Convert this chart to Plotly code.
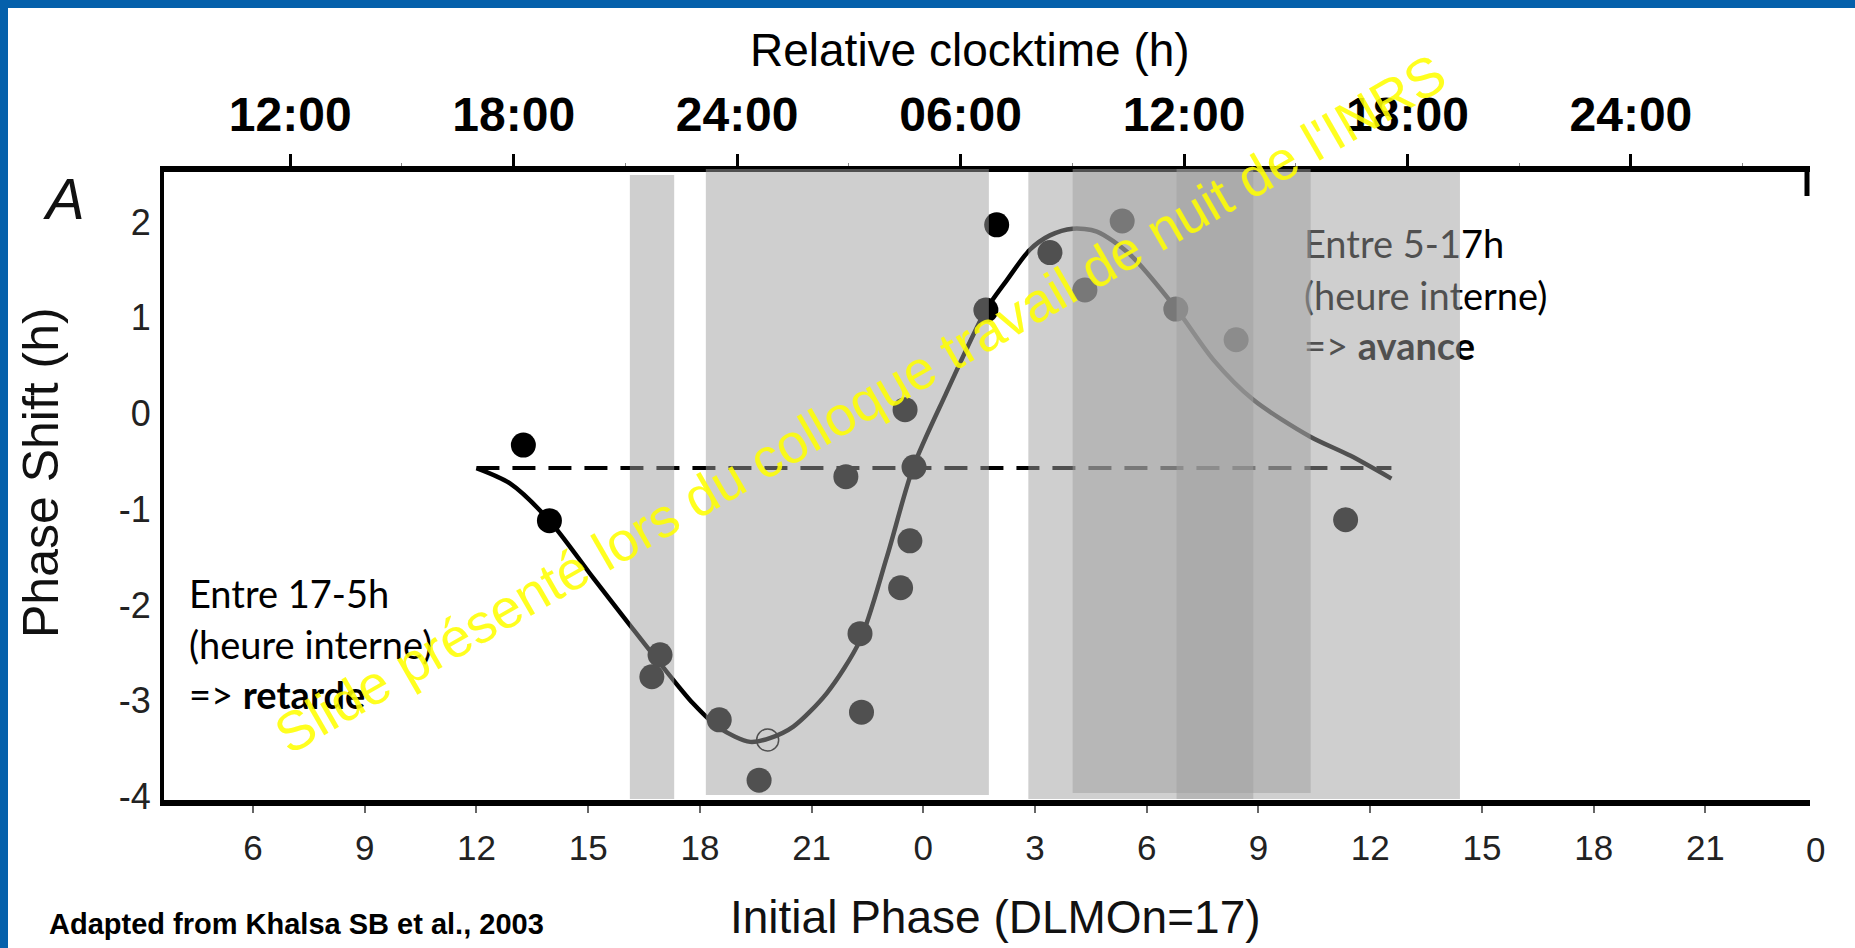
import plotly.graph_objects as go

# ---------------------------------------------------------------------------
# Phase response curve to light (initial phase in h, DLMOn = 17)
# ---------------------------------------------------------------------------
# individual subjects (filled circles)
phase = [13.26, 13.96, 16.93, 16.71, 18.52, 19.59, 21.92, 22.30, 22.34, 23.39,
         23.64, 23.75, 23.51, 25.97, 25.68, 27.40, 28.34, 29.34, 30.78, 32.40,
         35.34]
shift = [-0.33, -1.12, -2.52, -2.75, -3.20, -3.83, -0.66, -2.30, -3.12, -1.82,
         -1.33, -0.56, 0.04, 1.97, 1.08, 1.68, 1.29, 2.01, 1.09, 0.77,
         -1.11]
# subject shown with an open circle
open_phase = [19.82]
open_shift = [-3.41]

# fitted response curve
curve_phase = [12.00, 12.90, 13.96, 15.14, 16.12, 16.93, 17.82, 18.54, 19.35,
               19.88, 20.51, 21.41, 22.30, 23.02, 23.73, 24.60, 25.68, 26.24,
               26.86, 27.40, 28.01, 28.66, 29.55, 30.78, 31.79, 32.87, 34.38,
               35.46, 36.57]
curve_shift = [-0.57, -0.73, -1.12, -1.72, -2.21, -2.61, -3.03, -3.29, -3.43,
               -3.39, -3.27, -2.92, -2.37, -1.50, -0.56, 0.20, 1.08, 1.39,
               1.71, 1.86, 1.93, 1.90, 1.66, 1.10, 0.56, 0.14, -0.24,
               -0.44, -0.68]

# baseline (mean shift of the control condition)
baseline_phase = [12.00, 36.57]
baseline_shift = [-0.57, -0.57]

# shaded sleep / light episodes (phase, h)
band_start = [16.12, 18.16, 26.82, 28.01, 30.80]
band_end = [17.31, 25.76, 38.41, 34.40, 32.86]

# axis ticks
phase_ticks = [6, 9, 12, 15, 18, 21, 24, 27, 30, 33, 36, 39, 42, 45]
phase_labels = ["6", "9", "12", "15", "18", "21", "0", "3", "6", "9", "12",
                "15", "18", "21"]
phase_last_label = "0"
clock_ticks = [7, 13, 19, 25, 31, 37, 43]
clock_labels = ["12:00", "18:00", "24:00", "06:00", "12:00", "18:00", "24:00"]
clock_minor = [10, 16, 22, 28, 34, 40, 46]
shift_ticks = [2, 1, 0, -1, -2, -3, -4]
shift_labels = ["2", "1", "0", "-1", "-2", "-3", "-4"]

# ---------------------------------------------------------------------------
W, H = 1855, 948
L, R, T, B = 164, 1810, 172, 800          # plot area in pixels
X_RANGE = [3.61, 47.81]
Y_RANGE = [-4.037, 2.522]

ARIAL = "Liberation Sans, Arial, Helvetica, sans-serif"
CALIBRI = "Lato, Carlito, Calibri, sans-serif"
BLUE = "#0560ab"
VEIL = "rgba(160,160,160,0.5)"


def px_x(px):
    return (px - L) / (R - L)


def px_y(py):
    return (B - py) / (B - T)


fig = go.Figure()

# baseline
fig.add_trace(go.Scatter(
    x=baseline_phase, y=baseline_shift, mode="lines",
    line=dict(color="black", width=4, dash="23px,13px"),
    hoverinfo="skip", showlegend=False))

# fitted curve
fig.add_trace(go.Scatter(
    x=curve_phase, y=curve_shift, mode="lines",
    line=dict(color="black", width=4.5, shape="spline", smoothing=0.8),
    hoverinfo="skip", showlegend=False))

# subjects
fig.add_trace(go.Scatter(
    x=phase, y=shift, mode="markers",
    marker=dict(color="black", size=25, line=dict(width=0)),
    showlegend=False))
fig.add_trace(go.Scatter(
    x=open_phase, y=open_shift, mode="markers",
    marker=dict(symbol="circle-open", color="black", size=22,
                line=dict(width=1.5, color="black")),
    showlegend=False))

# explanatory notes (drawn under the shaded episodes)
left_notes = ["Entre 17-5h", "(heure interne)", "=> <b>retarde</b>"]
right_notes = ["Entre 5-17h", "(heure interne)", "=> <b>avance</b>"]
fig.add_trace(go.Scatter(
    x=[4.28] * 3, y=[-1.93, -2.47, -2.99], mode="text",
    text=left_notes, textposition="middle right",
    textfont=dict(family=CALIBRI, size=38, color="black"),
    hoverinfo="skip", showlegend=False))
fig.add_trace(go.Scatter(
    x=[34.22] * 3, y=[1.72, 1.185, 0.655], mode="text",
    text=right_notes, textposition="middle right",
    textfont=dict(family=CALIBRI, size=38, color="black"),
    hoverinfo="skip", showlegend=False))

# dummy trace carrying the top (clock time) axis
fig.add_trace(go.Scatter(x=[X_RANGE[0]], y=[Y_RANGE[0]], xaxis="x2",
                         mode="markers", marker=dict(opacity=0),
                         hoverinfo="skip", showlegend=False))

shapes = []
# translucent shaded episodes over everything in the plot
band_tops = [175, 169, 172, 169, 169]
band_bottoms = [799, 795, 799, 793, 799]
for x0, x1, t, b in zip(band_start, band_end, band_tops, band_bottoms):
    shapes.append(dict(type="rect", xref="x", yref="paper", x0=x0, x1=x1,
                       y0=px_y(b), y1=px_y(t), fillcolor=VEIL,
                       line=dict(width=0), layer="above"))
# short closing tick at the right end of the top axis
shapes.append(dict(type="line", xref="paper", yref="paper",
                   x0=px_x(1807), x1=px_x(1807), y0=px_y(170), y1=px_y(196),
                   line=dict(color="black", width=5), layer="above"))
# slide frame
shapes.append(dict(type="rect", xref="paper", yref="paper",
                   x0=px_x(0), x1=px_x(W), y0=px_y(0), y1=px_y(8),
                   fillcolor=BLUE, line=dict(width=0), layer="above"))
shapes.append(dict(type="rect", xref="paper", yref="paper",
                   x0=px_x(0), x1=px_x(8), y0=px_y(0), y1=px_y(H),
                   fillcolor=BLUE, line=dict(width=0), layer="above"))

annotations = [
    dict(text="Relative clocktime (h)", x=px_x(970), y=px_y(50),
         font=dict(family=ARIAL, size=46, color="black")),
    dict(text="Initial Phase (DLMOn=17)", x=px_x(995), y=px_y(917),
         font=dict(family=ARIAL, size=46, color="#111")),
    dict(text="Phase Shift (h)", x=px_x(41), y=px_y(473), textangle=-90,
         font=dict(family=ARIAL, size=50, color="#111")),
    dict(text="<i>A</i>", x=px_x(64), y=px_y(198),
         font=dict(family=ARIAL, size=58, color="#111")),
    dict(text="<b>Adapted from Khalsa SB et al., 2003</b>", x=px_x(47),
         y=px_y(924), xanchor="left",
         font=dict(family=ARIAL, size=29, color="black")),
    # last label of the phase axis sits just past the frame end
    dict(text=phase_last_label, x=px_x(1815), y=px_y(849),
         font=dict(family=ARIAL, size=35, color="#222")),
    dict(text="Slide présenté lors du colloque travail de nuit de l'INRS",
         x=px_x(860), y=px_y(404), textangle=-30,
         font=dict(family=ARIAL, size=55, color="rgba(255,255,0,0.88)")),
]
for a in annotations:
    a.setdefault("xanchor", "center")
    a.update(xref="paper", yref="paper", yanchor="middle", showarrow=False)

fig.update_layout(
    width=W, height=H, autosize=False,
    margin=dict(l=L, r=W - R, t=T, b=H - B, pad=0),
    paper_bgcolor="white", plot_bgcolor="white",
    showlegend=False,
    shapes=shapes, annotations=annotations,
    xaxis=dict(range=X_RANGE, showgrid=False, zeroline=False,
               showline=True, linecolor="black", linewidth=6,
               ticks="outside", ticklen=7, tickwidth=1.5, tickcolor="#666",
               tickmode="array", tickvals=phase_ticks, ticktext=phase_labels,
               tickfont=dict(family=ARIAL, size=35, color="#222"),
               ticklabelstandoff=5, fixedrange=True),
    xaxis2=dict(range=X_RANGE, overlaying="x", side="top", showgrid=False,
                zeroline=False, showline=True, linecolor="black", linewidth=6,
                ticks="outside", ticklen=12, tickwidth=2.5, tickcolor="black",
                tickmode="array", tickvals=clock_ticks, ticktext=clock_labels,
                tickfont=dict(family=ARIAL, size=48, color="black",
                              weight="bold"),
                minor=dict(tickmode="array", tickvals=clock_minor, ticklen=3,
                           tickwidth=1, tickcolor="#888", ticks="outside"),
                ticklabelstandoff=4, fixedrange=True),
    yaxis=dict(range=Y_RANGE, showgrid=False, zeroline=False,
               showline=True, linecolor="black", linewidth=4,
               ticks="", tickmode="array", tickvals=shift_ticks,
               ticktext=shift_labels,
               tickfont=dict(family=ARIAL, size=36, color="#222"),
               ticklabelstandoff=2, fixedrange=True),
)

fig.write_html("out.html")
